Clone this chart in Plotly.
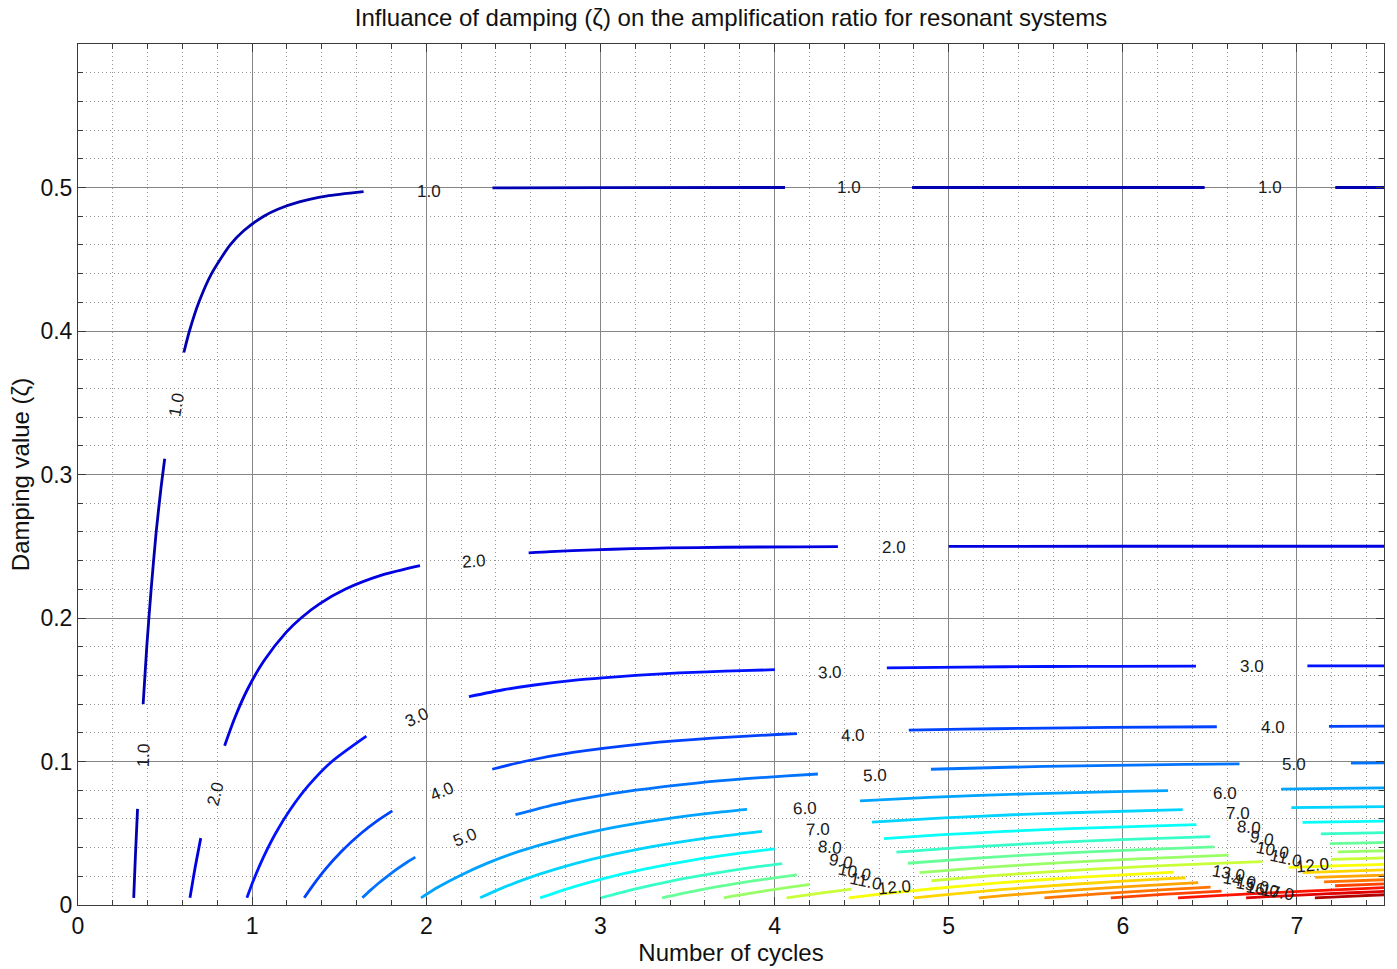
import plotly.graph_objects as go

# ---------------- data ----------------
# Contour levels of the amplification ratio; each level is a polyline in
# (number of cycles, damping value) space, None marks a gap left for a label.
LEVELS = [1, 2, 3, 4, 5, 6, 7, 8, 9, 10, 11, 12, 13, 14, 15, 16, 17, 18, 19, 20]
CLIM = [0.0, 21.0]

L1_N = [0.320, 0.330, 0.342, None, 0.374, 0.395, 0.420, 0.449, 0.476, 0.498, None,
        0.608, 0.640, 0.694, 0.767, 0.874, 0.953, 1.067, 1.151, 1.271, 1.425, 1.640, None,
        2.38, 3.00, 4.06, None, 4.79, 6.47, None, 7.22, 7.55]
L1_Z = [0.005, 0.035, 0.067, None, 0.140, 0.180, 0.220, 0.260, 0.290, 0.311, None,
        0.385, 0.400, 0.420, 0.440, 0.460, 0.470, 0.480, 0.485, 0.490, 0.494, 0.4971, None,
        0.4997, 0.4999, 0.5000, None, 0.5000, 0.5000, None, 0.5000, 0.5000]

L2_N = [0.643, 0.671, 0.705, None, 0.842, 0.899, 0.972, 1.067, 1.195, 1.281, 1.389, 1.534, 1.748, 1.964, None,
        2.588, 2.714, 2.961, 3.181, 3.390, 3.709, 4.146, 4.364, None, 5.00, 6.00, 7.55]
L2_Z = [0.005, 0.025, 0.0466, None, 0.111, 0.130, 0.150, 0.170, 0.190, 0.200, 0.210, 0.220, 0.230, 0.2365, None,
        0.2454, 0.2463, 0.2475, 0.2483, 0.2488, 0.2493, 0.2496, 0.2497, None, 0.2499, 0.2500, 0.2500]

L3_N = [0.970, 1.006, 1.065, 1.135, 1.220, 1.324, 1.458, 1.656, None,
        2.245, 2.443, 2.622, 2.858, 3.011, 3.202, 3.452, 3.613, 3.812, 4.002, None,
        4.645, 5.085, 5.564, 5.946, 6.420, None, 7.06, 7.55]
L3_Z = [0.005, 0.0167, 0.0333, 0.050, 0.0667, 0.0833, 0.100, 0.1177, None,
        0.1452, 0.150, 0.1533, 0.1567, 0.1583, 0.160, 0.1617, 0.1625, 0.1633, 0.1640, None,
        0.1653, 0.1658, 0.1662, 0.1663, 0.1665, None, 0.1666, 0.1666]

L4_N = [1.299, 1.342, 1.421, 1.514, 1.626, 1.720, 1.805, None,
        2.379, 2.561, 2.842, 3.257, 3.641, 4.015, 4.129, None,
        4.771, 5.083, 5.429, 5.923, 6.540, None, 7.184, 7.55]
L4_Z = [0.005, 0.0125, 0.025, 0.0375, 0.050, 0.0588, 0.0656, None,
        0.0946, 0.100, 0.1063, 0.1125, 0.1163, 0.1188, 0.1194, None,
        0.1218, 0.1225, 0.1231, 0.1238, 0.1242, None, 0.1245, 0.1247]

L5_N = [1.633, 1.677, 1.724, 1.776, 1.831, 1.892, 1.937, None,
        2.512, 2.737, 2.942, 3.202, 3.552, 3.835, 4.072, 4.249, None,
        4.898, 5.336, 5.753, 6.353, 6.670, None, 7.31, 7.55]
L5_Z = [0.005, 0.010, 0.015, 0.020, 0.025, 0.030, 0.0334, None,
        0.063, 0.070, 0.075, 0.080, 0.085, 0.088, 0.090, 0.0913, None,
        0.0946, 0.0960, 0.0970, 0.0980, 0.0984, None, 0.0989, 0.0991]

L6_N = [1.970, 2.069, 2.198, 2.351, 2.537, 2.773, 3.085, 3.377, 3.645, 3.842, None,
        4.491, 4.886, 5.461, 6.023, 6.260, None, 6.909, 7.226, 7.55]
L6_Z = [0.005, 0.0125, 0.0208, 0.0292, 0.0375, 0.0458, 0.0542, 0.0600, 0.0642, 0.0667, None,
        0.0726, 0.0750, 0.0775, 0.0792, 0.0797, None, 0.0808, 0.0813, 0.0816]

L7_N = [2.310, 2.414, 2.564, 2.743, 2.960, 3.235, 3.599, 3.928, None,
        4.560, 4.973, 5.369, 5.701, 6.344, None, 6.968, 7.235, 7.55]
L7_Z = [0.005, 0.0107, 0.0179, 0.0250, 0.0321, 0.0393, 0.0464, 0.0513, None,
        0.0578, 0.0607, 0.0629, 0.0643, 0.0664, None, 0.0678, 0.0682, 0.0687]

L8_N = [2.654, 2.841, 3.028, 3.252, 3.530, 3.771, 4.001, None,
        4.629, 4.943, 5.325, 5.822, 6.423, None, 7.032, 7.496, 7.55]
L8_Z = [0.005, 0.0125, 0.0188, 0.0250, 0.0313, 0.0356, 0.0391, None,
        0.0462, 0.0488, 0.0513, 0.0538, 0.0560, None, 0.0576, 0.0585, 0.0586]

L9_N = [3.002, 3.196, 3.406, 3.659, 3.903, 4.044, None,
        4.700, 5.065, 5.561, 5.991, 6.502, None, 7.137, 7.502, 7.55]
L9_Z = [0.005, 0.0111, 0.0167, 0.0222, 0.0267, 0.0289, None,
        0.0368, 0.0400, 0.0433, 0.0456, 0.0476, None, 0.0495, 0.0504, 0.0505]

L10_N = [3.354, 3.552, 3.785, 3.918, 4.065, 4.128, None,
         4.766, 5.141, 5.628, 6.179, 6.526, None, 7.189, 7.465, 7.55]
L10_Z = [0.005, 0.0100, 0.0150, 0.0175, 0.0200, 0.0210, None,
         0.0291, 0.0325, 0.0360, 0.0390, 0.0405, None, 0.0428, 0.0435, 0.0437]

L11_N = [3.709, 3.907, 4.203, None, 4.833, 5.083, 5.347, 5.655, 6.022, 6.607, None, 7.235, 7.475, 7.55]
L11_Z = [0.005, 0.0091, 0.0143, None, 0.0225, 0.0250, 0.0273, 0.0295, 0.0318, 0.0347, None, 0.0370, 0.0377, 0.0379]

L12_N = [4.069, 4.262, 4.441, None, 4.901, 5.075, 5.295, 5.546, 5.833, 6.169, 6.570, 6.802, None, 7.196, 7.415, 7.55]
L12_Z = [0.005, 0.0083, 0.0111, None, 0.0169, 0.0188, 0.0208, 0.0229, 0.0250, 0.0271, 0.0292, 0.0302, None, 0.0318, 0.0325, 0.0330]

L13_N = [4.426, 4.617, 4.920, 5.285, 5.737, 6.293, None, 6.952, 7.215, 7.55]
L13_Z = [0.005, 0.0077, 0.0115, 0.0154, 0.0192, 0.0229, None, 0.0262, 0.0273, 0.0285]

L14_N = [4.801, 4.972, 5.298, 5.691, 6.178, 6.360, None, 7.033, 7.284, 7.55]
L14_Z = [0.005, 0.0071, 0.0107, 0.0143, 0.0179, 0.0190, None, 0.0225, 0.0236, 0.0246]

L15_N = [5.173, 5.327, 5.677, 6.098, 6.433, None, 7.105, 7.55]
L15_Z = [0.005, 0.0067, 0.0100, 0.0133, 0.0156, None, 0.0192, 0.0211]

L16_N = [5.550, 5.861, 6.269, 6.504, None, 7.156, 7.55]
L16_Z = [0.005, 0.0078, 0.0109, 0.0125, None, 0.0161, 0.0178]

L17_N = [5.931, 6.227, 6.567, None, 7.219, 7.55]
L17_Z = [0.005, 0.0074, 0.0097, None, 0.0134, 0.0149]

L18_N = [6.317, 6.593, 6.812, 7.052, 7.317, 7.55]
L18_Z = [0.005, 0.0069, 0.0083, 0.0097, 0.0111, 0.0123]

L19_N = [6.708, 6.959, 7.190, 7.444, 7.55]
L19_Z = [0.005, 0.0066, 0.0079, 0.0092, 0.0097]

L20_N = [7.103, 7.326, 7.55]
L20_Z = [0.005, 0.00625, 0.0074]

# Inline contour labels: text and where they sit on their line
LABEL_TEXT = ["1.0", "1.0", "1.0", "1.0", "1.0",
              "2.0", "2.0", "2.0",
              "3.0", "3.0", "3.0",
              "4.0", "4.0", "4.0",
              "5.0", "5.0", "5.0",
              "6.0", "6.0", "7.0", "7.0", "8.0", "8.0", "9.0", "9.0",
              "10.0", "10.0", "11.0", "11.0", "12.0", "12.0",
              "13.0", "14.0", "15.0", "16.0", "17.0"]
LABEL_N = [0.374, 0.565, 2.016, 4.427, 6.844,
           0.789, 2.274, 4.685,
           1.947, 4.318, 6.741,
           2.090, 4.450, 6.861,
           2.222, 4.576, 6.981,
           4.175, 6.586, 4.250, 6.661, 4.318, 6.724, 4.381, 6.798,
           4.462, 6.861, 4.525, 6.936, 4.691, 7.090,
           6.609, 6.672, 6.747, 6.804, 6.890]
LABEL_Z = [0.1045, 0.349, 0.4972, 0.4999, 0.4999,
           0.0779, 0.2392, 0.2490,
           0.1307, 0.1620, 0.1662,
           0.0793, 0.1182, 0.1238,
           0.0473, 0.0904, 0.0981,
           0.0675, 0.0779, 0.0529, 0.0640, 0.0403, 0.0542, 0.0306, 0.0466,
           0.0229, 0.0382, 0.0167, 0.0327, 0.0125, 0.0278,
           0.0223, 0.0174, 0.0139, 0.0111, 0.0090]
LABEL_ANGLE = [-88, -80, 0, 0, 0,
               -76, -4, 0,
               -25, -2, 0,
               -23, -2, 0,
               -22, -2, 0,
               -3, 0, -2, 0, 5, 5, 12, 12,
               12, 12, 12, 12, -5, -5,
               10, 10, 10, 10, 10]

X_TICKS = [0, 1, 2, 3, 4, 5, 6, 7]
Y_TICKS = [0, 0.1, 0.2, 0.3, 0.4, 0.5]
Y_TICK_TEXT = ["0", "0.1", "0.2", "0.3", "0.4", "0.5"]

TITLE = "Influance of damping (\u03b6) on the amplification ratio for resonant systems"
X_TITLE = "Number of cycles"
Y_TITLE = "Damping value (\u03b6)"

# ---------------- figure ----------------
FONT = "Liberation Sans, Arial, Helvetica, sans-serif"


def jet(t):
    """MATLAB-style jet colormap."""
    def c(v):
        return max(0.0, min(1.0, v))
    r = c(min(4 * t - 1.5, -4 * t + 4.5))
    g = c(min(4 * t - 0.5, -4 * t + 3.5))
    b = c(min(4 * t + 0.5, -4 * t + 2.5))
    return "rgb(%d,%d,%d)" % (round(r * 255), round(g * 255), round(b * 255))


curves = [
    (L1_N, L1_Z), (L2_N, L2_Z), (L3_N, L3_Z), (L4_N, L4_Z), (L5_N, L5_Z),
    (L6_N, L6_Z), (L7_N, L7_Z), (L8_N, L8_Z), (L9_N, L9_Z), (L10_N, L10_Z),
    (L11_N, L11_Z), (L12_N, L12_Z), (L13_N, L13_Z), (L14_N, L14_Z), (L15_N, L15_Z),
    (L16_N, L16_Z), (L17_N, L17_Z), (L18_N, L18_Z), (L19_N, L19_Z), (L20_N, L20_Z),
]

fig = go.Figure()
for level, (xs, ys) in zip(LEVELS, curves):
    t = (level - CLIM[0]) / (CLIM[1] - CLIM[0])
    fig.add_trace(go.Scatter(
        x=xs, y=ys, mode="lines", name="%.1f" % level,
        line=dict(color=jet(t), width=2.8, shape="spline", smoothing=0.7),
        connectgaps=False, showlegend=False, hoverinfo="skip",
    ))

for txt, xn, yz, ang in zip(LABEL_TEXT, LABEL_N, LABEL_Z, LABEL_ANGLE):
    fig.add_annotation(x=xn, y=yz, text=txt, showarrow=False, textangle=ang,
                       font=dict(family=FONT, size=17, color="#1a1a1a"),
                       xanchor="center", yanchor="middle")

axis_common = dict(
    showline=True, linecolor="#3a3a3a", linewidth=1, mirror="allticks",
    ticks="inside", ticklen=8, tickcolor="#3a3a3a", tickwidth=1,
    showgrid=True, gridcolor="#858585", gridwidth=1,
    zeroline=False,
    tickfont=dict(family=FONT, size=23, color="#111111"),
)

fig.update_layout(
    width=1397, height=969, autosize=False,
    margin=dict(l=78, r=12, t=44, b=62),
    paper_bgcolor="white", plot_bgcolor="white",
    title=dict(text=TITLE, x=0.5, xref="paper", xanchor="center",
               y=1 - 18 / 969, yref="container", yanchor="middle",
               font=dict(family=FONT, size=24, color="#111111")),
    xaxis=dict(
        range=[0, 7.5], tickmode="array", tickvals=X_TICKS,
        title=dict(text=X_TITLE, font=dict(family=FONT, size=24, color="#111111"), standoff=2),
        minor=dict(dtick=0.2, tick0=0, ticks="inside", ticklen=5, tickcolor="#3a3a3a",
                   showgrid=True, gridcolor="#959595", griddash="1px,3px", gridwidth=1),
        **axis_common,
    ),
    yaxis=dict(
        range=[0, 0.6], tickmode="array", tickvals=Y_TICKS, ticktext=Y_TICK_TEXT,
        title=dict(text=Y_TITLE, font=dict(family=FONT, size=24, color="#111111"), standoff=4),
        minor=dict(dtick=0.02, tick0=0, ticks="inside", ticklen=5, tickcolor="#3a3a3a",
                   showgrid=True, gridcolor="#959595", griddash="1px,3px", gridwidth=1),
        **axis_common,
    ),
)

fig.write_html("out.html")
